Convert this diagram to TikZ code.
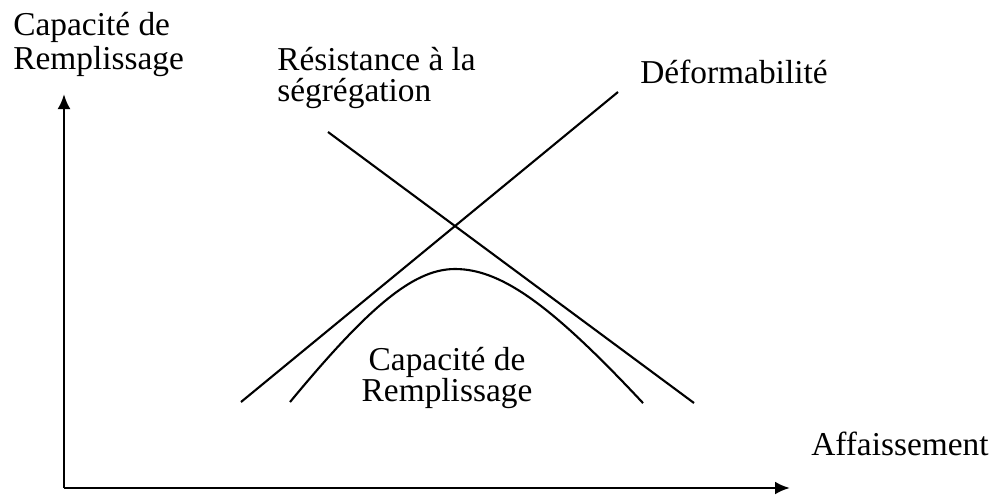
\documentclass[tikz,border=0pt]{standalone}
\usepackage{fontspec}
\setmainfont{Liberation Serif}
\usepackage{tikz}
\usetikzlibrary{arrows.meta,calc}
\tikzstyle{axis}=[-{Latex[length=3mm,width=2.6mm]},line width=1.6pt]
\tikzstyle{courbe}=[line width=1.2pt]
\tikzstyle{lbl}=[inner sep=0pt,font=\fontsize{19pt}{19.5pt}\selectfont]
\tikzstyle{lblserre}=[lbl,font=\fontsize{19pt}{17.5pt}\selectfont]

\begin{document}
\begin{tikzpicture}
\useasboundingbox (0,0) rectangle (19.9,9.92);
\coordinate (o) at (1.28,0.16);
\coordinate (ytip) at (1.28,8.04);
\coordinate (xtip) at (15.8,0.16);
\coordinate (d1) at (4.82,1.88);
\coordinate (d2) at (12.36,8.08);
\coordinate (r1) at (6.56,7.28);
\coordinate (r2) at (13.88,1.86);
\coordinate (pic) at (9.10,4.54);
\draw[axis] (o) -- (ytip);
\draw[axis] (o) -- (xtip);
\draw[courbe] (d1) -- (d2);
\draw[courbe] (r1) -- (r2);
\draw[courbe,shift={(pic)}] plot[domain=-3.3:0,samples=40] (\x,{2.68-sqrt(2.68*2.68+1.96*\x*\x)})
  -- plot[domain=0:3.76,samples=40] (\x,{2.68-sqrt(2.68*2.68+1.525*\x*\x)});
\node[lbl,align=left,anchor=north west] (ylbl) at (0.26,9.68) {Capacité de\\Remplissage};
\node[lbl,anchor=base east] (xlbl) at (19.78,0.82) {Affaissement};
\node[lblserre,align=left,anchor=north west] (resist) at (5.54,8.98) {Résistance à la\\ségrégation};
\node[lbl,anchor=base west] (deform) at (12.8,8.26) {Déformabilité};
\node[lblserre,align=center,anchor=north] (capa) at (8.94,2.98) {Capacité de\\Remplissage};
\end{tikzpicture}
\end{document}
